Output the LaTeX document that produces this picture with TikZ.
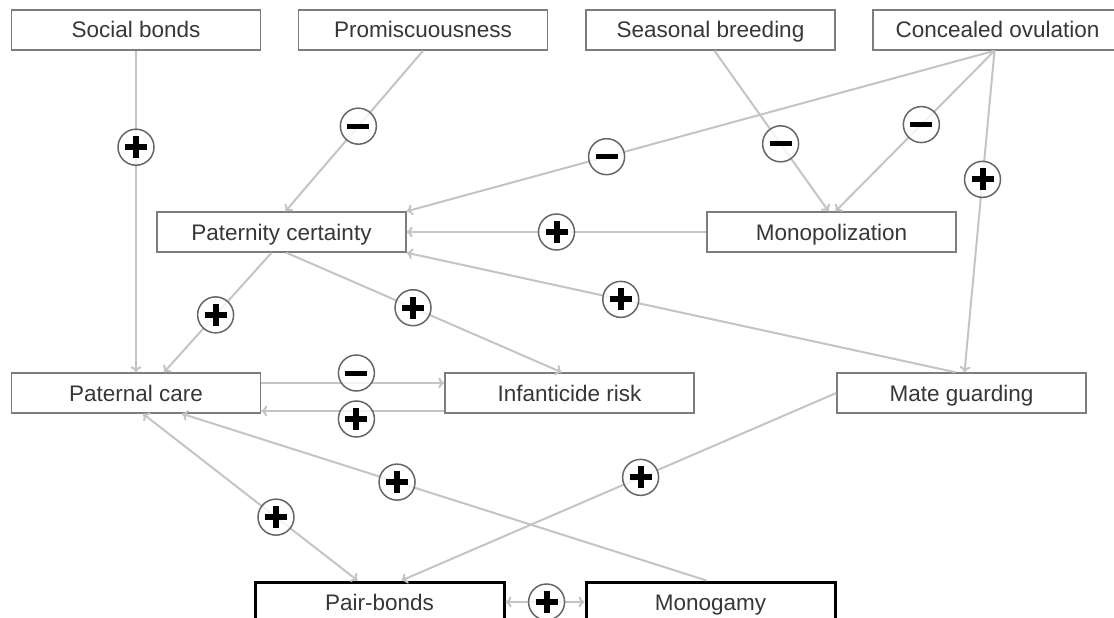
\documentclass[tikz,border=0pt]{standalone}
\usepackage{fontspec}
\setmainfont{Liberation Sans}
\usetikzlibrary{arrows.meta}

\definecolor{linkgray}{RGB}{196,196,196}
\definecolor{boxgray}{RGB}{125,125,125}
\definecolor{textgray}{RGB}{55,55,55}

\tikzset{
  box/.style={draw=boxgray, line width=1.5pt, fill=white, minimum width=249pt, minimum height=40pt, inner sep=0pt, text height=20pt, text depth=4pt, text=textgray, font=\fontsize{22.5}{26}\selectfont},
  keybox/.style={box, draw=black, line width=3pt},
  link/.style={draw=linkgray, line width=2pt, -{To[length=6pt,width=11pt]}},
  twoway/.style={link, {To[length=6pt,width=11pt]}-{To[length=6pt,width=11pt]}},
  sign/.style={circle, draw=black!60, line width=1.5pt, fill=white, fill opacity=.8, minimum size=36pt, inner sep=0pt},
  plus/.style={sign, path picture={
    \draw[-, black, line width=6pt] ([xshift=-11pt]path picture bounding box.center) -- ([xshift=11pt]path picture bounding box.center);
    \draw[-, black, line width=6pt] ([yshift=-11pt]path picture bounding box.center) -- ([yshift=11pt]path picture bounding box.center);}},
  minus/.style={sign, path picture={
    \draw[-, black, line width=5pt] ([xshift=-11pt]path picture bounding box.center) -- ([xshift=11pt]path picture bounding box.center);}}
}

\begin{document}
\begin{tikzpicture}[x=1pt, y=-1pt]
\useasboundingbox (0,0) rectangle (1114,618);
\clip (0,0) rectangle (1114,618);

\node[box] (social) at (136,30) {Social bonds};
\node[box] (promisc) at (423,30) {Promiscuousness};
\node[box] (season) at (710.5,30) {Seasonal breeding};
\node[box] (conceal) at (997.5,30) {Concealed ovulation};
\node[box] (paternity) at (281.5,232) {Paternity certainty};
\node[box] (monopol) at (831.5,232) {Monopolization};
\node[box] (care) at (136,393) {Paternal care};
\node[box] (infant) at (569.5,393) {Infanticide risk};
\node[box] (guard) at (961.5,393) {Mate guarding};
\node[keybox] (pair) at (379.5,602) {Pair-bonds};
\node[keybox] (monogamy) at (710.5,602) {Monogamy};

\draw[link] (social.south) -- (care.north) node[plus, pos=.3] (s1) {};
\draw[link] (promisc.south) -- ([xshift=4pt]paternity.north) node[minus, pos=.47] (s2) {};
\draw[link] ([xshift=-3pt]conceal.south) -- (paternity.north east) node[minus, pos=.66] (s3) {};
\draw[link] ([xshift=4pt]season.south) -- ([xshift=-3pt]monopol.north) node[minus, pos=.58] (s4) {};
\draw[link] ([xshift=-3pt]conceal.south) -- ([xshift=4pt]monopol.north) node[minus, pos=.46] (s5) {};
\draw[link] ([xshift=-3pt]conceal.south) -- ([xshift=3pt]guard.north) node[plus, pos=.4] (s6) {};
\draw[link] (monopol.west) -- (paternity.east) node[plus, pos=.5] (s7) {};
\draw[link] ([xshift=-6pt]guard.north) -- (paternity.south east) node[plus, pos=.61] (s8) {};
\draw[link] ([xshift=-10pt]paternity.south) -- ([xshift=28pt]care.north) node[plus, pos=.52] (s9) {};
\draw[link] ([xshift=5pt]paternity.south) -- ([xshift=-8pt]infant.north) node[plus, pos=.46] (s10) {};
\draw[link] ([yshift=10pt]care.east) -- ([yshift=10pt]infant.west) node[minus, pos=.52, yshift=10pt] (s11) {};
\draw[link] ([yshift=-18pt]infant.west) -- ([yshift=-18pt]care.east) node[plus, pos=.48, yshift=-8pt] (s12) {};
\draw[twoway] ([xshift=7pt]care.south) -- ([xshift=-22pt]pair.north) node[plus, pos=.62] (s13) {};
\draw[link] ([xshift=-4pt]monogamy.north) -- ([xshift=46pt]care.south) node[plus, pos=.59] (s14) {};
\draw[link] (guard.west) -- ([xshift=22pt]pair.north) node[plus, pos=.45] (s15) {};
\draw[twoway] (pair.east) -- (monogamy.west) node[plus, pos=.52] (s16) {};
\end{tikzpicture}
\end{document}
